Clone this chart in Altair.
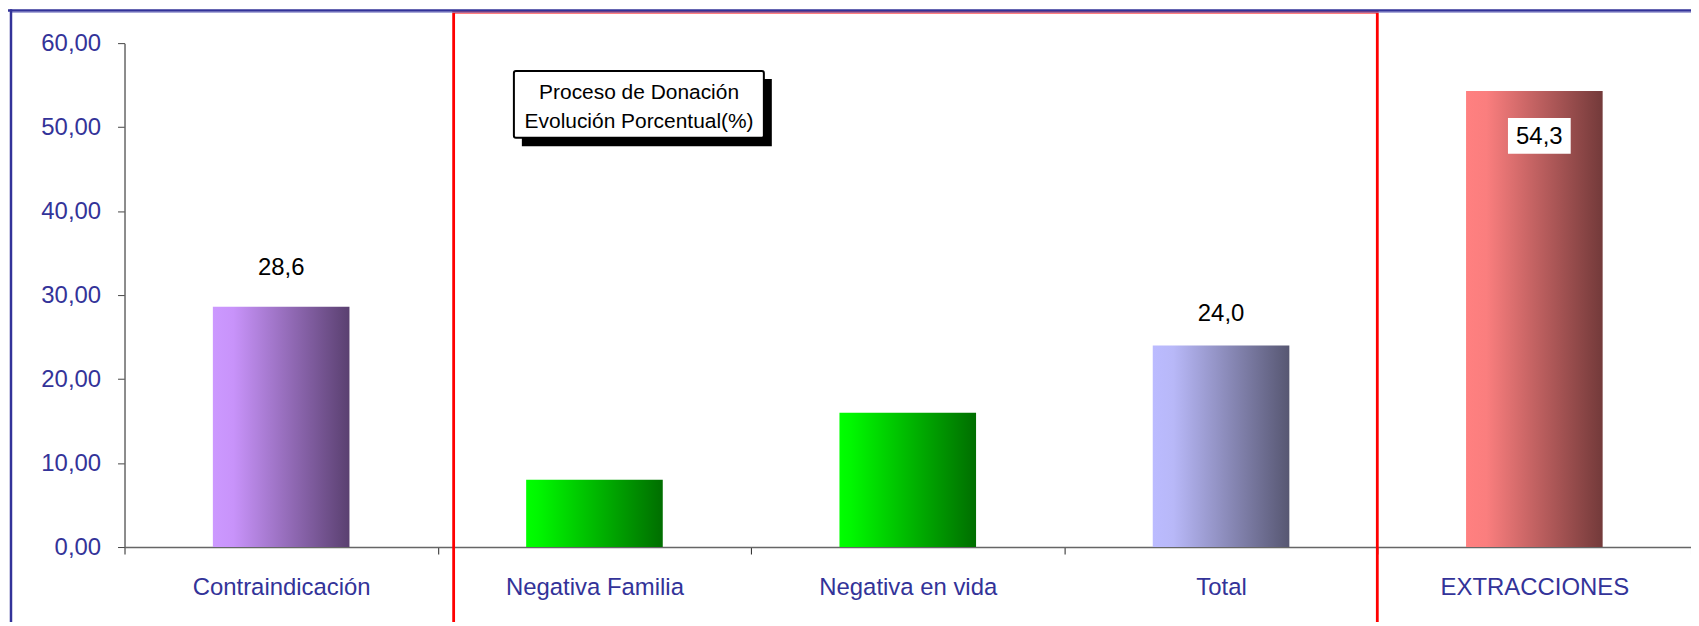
import altair as alt
import pandas as pd

# ---- data ----
categories = ["Contraindicación", "Negativa Familia", "Negativa en vida", "Total", "EXTRACCIONES"]
values = [28.6, 8.0, 16.0, 24.0, 54.3]
label_mode = ["above", "none", "none", "above", "inside"]
y_ticks = [0, 10, 20, 30, 40, 50, 60]
title_lines = ["Proceso de Donación", "Evolución Porcentual(%)"]

# gradient colour stops per bar (left -> right)
bar_gradients = {
    "Contraindicación": [("#CC99FF", 0.0), ("#C893FA", 0.15), ("#5A4070", 1.0)],
    "Negativa Familia": [("#00FF00", 0.0), ("#00F800", 0.08), ("#006E00", 1.0)],
    "Negativa en vida": [("#00FF00", 0.0), ("#00F800", 0.08), ("#006E00", 1.0)],
    "Total": [("#BBBBFF", 0.0), ("#B8B8F8", 0.15), ("#575772", 1.0)],
    "EXTRACCIONES": [("#FF8080", 0.0), ("#FA7E7E", 0.15), ("#733A3A", 1.0)],
}

df = pd.DataFrame({"cat": categories, "value": values, "mode": label_mode})

FONT = "Liberation Sans"
AXIS_BLUE = "#333399"
W, H = 1573, 506

x_enc = alt.X(
    "cat:N",
    sort=categories,
    scale=alt.Scale(paddingInner=0, paddingOuter=0),
    axis=alt.Axis(
        title=None, labelAngle=0, tickBand="extent", labelFont=FONT, labelFontSize=24,
        labelColor=AXIS_BLUE, labelPadding=22, tickSize=7, tickColor="#222222",
        domainColor="#666666", domainWidth=1.5, labelBaseline="top", labelLimit=0,
    ),
)
y_enc = alt.Y(
    "value:Q",
    scale=alt.Scale(domain=[0, 60], nice=False),
    axis=alt.Axis(
        title=None, values=y_ticks, grid=False,
        labelExpr="replace(format(datum.value, '.2f'), '.', ',')",
        labelFont=FONT, labelFontSize=24, labelColor=AXIS_BLUE, labelPadding=17,
        tickSize=7, tickColor="#444444", domainColor="#666666", domainWidth=1.5,
    ),
)

base = alt.Chart(df)

bar_layers = []
for c in categories:
    stops = [alt.GradientStop(color=col, offset=off) for col, off in bar_gradients[c]]
    grad = alt.LinearGradient(gradient="linear", stops=stops, x1=0, x2=1, y1=0, y2=0)
    bar_layers.append(
        base.transform_filter(alt.datum.cat == c)
        .mark_bar(color=grad, width=alt.RelativeBandSize(0.436))
        .encode(x=x_enc, y=y_enc)
    )

lbl_expr = "replace(format(datum.value, '.1f'), '.', ',')"

labels_above_a = (
    base.transform_filter((alt.datum.mode == "above") & (alt.datum.cat != "Total"))
    .transform_calculate(lbl=lbl_expr)
    .mark_text(font=FONT, fontSize=24, color="black", baseline="alphabetic", dy=-32)
    .encode(x=x_enc, y=y_enc, text="lbl:N")
)
labels_above_b = (
    base.transform_filter((alt.datum.mode == "above") & (alt.datum.cat == "Total"))
    .transform_calculate(lbl=lbl_expr)
    .mark_text(font=FONT, fontSize=24, color="black", baseline="alphabetic", dy=-24.5)
    .encode(x=x_enc, y=y_enc, text="lbl:N")
)

inside_box = (
    base.transform_filter(alt.datum.mode == "inside")
    .mark_point(
        shape="M-1,-0.5714L1,-0.5714L1,0.5714L-1,0.5714Z", size=3969,
        filled=True, color="white", opacity=1, xOffset=5, yOffset=45,
    )
    .encode(x=x_enc, y=y_enc)
)
inside_text = (
    base.transform_filter(alt.datum.mode == "inside")
    .transform_calculate(lbl=lbl_expr)
    .mark_text(font=FONT, fontSize=24, color="black", baseline="middle", dx=5, dy=46)
    .encode(x=x_enc, y=y_enc, text="lbl:N")
)

deco = alt.Chart(alt.Data(values=[{"k": 0}]))

blue_top = deco.mark_rule(color=AXIS_BLUE, strokeWidth=2.5).encode(
    x=alt.value(-117), x2=alt.value(W), y=alt.value(-32.8))
blue_top2 = deco.mark_rule(color="#8C8CCC", strokeWidth=1).encode(
    x=alt.value(-113), x2=alt.value(W), y=alt.value(-31))
blue_left = deco.mark_rule(color=AXIS_BLUE, strokeWidth=2.5).encode(
    x=alt.value(-114), y=alt.value(-34), y2=alt.value(700))

red_box = deco.mark_rect(fillOpacity=0, stroke="#FF0000", strokeWidth=2.8).encode(
    x=alt.value(330.5), x2=alt.value(1258), y=alt.value(-31.2), y2=alt.value(700))

shadow = deco.mark_rect(color="black").encode(
    x=alt.value(399), x2=alt.value(650), y=alt.value(36), y2=alt.value(103.5))
tbox = deco.mark_rect(fill="white", stroke="black", strokeWidth=2, cornerRadius=2).encode(
    x=alt.value(391), x2=alt.value(642), y=alt.value(28), y2=alt.value(95))
ttext = deco.mark_text(
    font=FONT, fontSize=21, lineHeight=29, align="center", baseline="middle", color="black"
).encode(x=alt.value(516.7), y=alt.value(50.5), text=alt.value(title_lines))

chart = (
    alt.layer(*bar_layers, labels_above_a, labels_above_b, inside_box, inside_text,
              red_box, blue_top, blue_top2, blue_left, shadow, tbox, ttext)
    .properties(
        width=W, height=H,
        autosize=alt.AutoSizeParams(type="none"),
        padding={"left": 117, "top": 34, "right": 0, "bottom": 74},
        background="white",
    )
    .configure_view(strokeOpacity=0)
)

chart.save("out.html", embed_options={"renderer": "svg", "actions": False})
